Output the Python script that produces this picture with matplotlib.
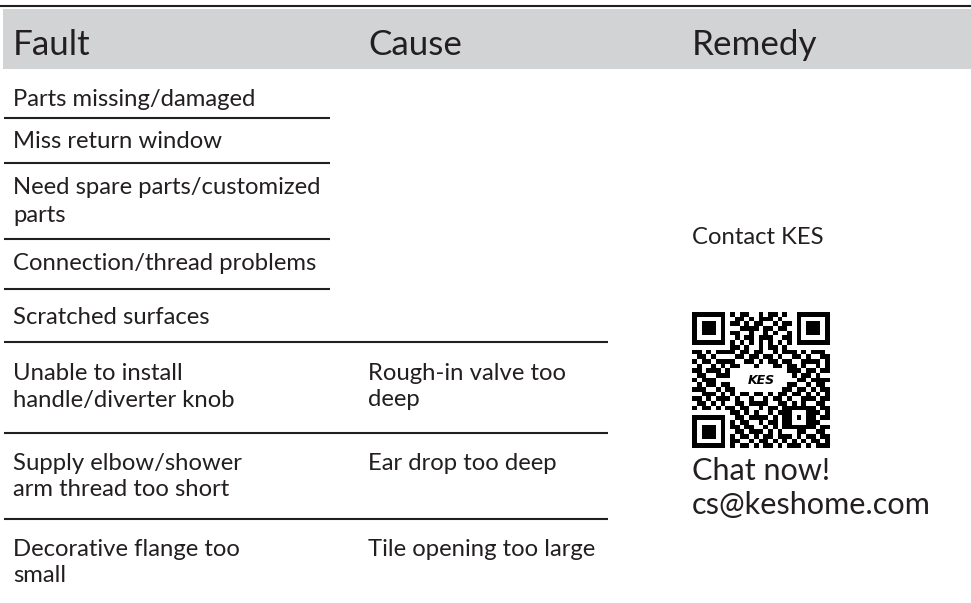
import numpy as np
import matplotlib
matplotlib.use("Agg")
import matplotlib.pyplot as plt
from matplotlib.patches import Rectangle
from matplotlib.textpath import TextPath
from matplotlib.font_manager import FontProperties

# table content
headers = ["Fault", "Cause", "Remedy"]
faults = [
    "Parts missing/damaged",
    "Miss return window",
    "Need spare parts/customized\nparts",
    "Connection/thread problems",
    "Scratched surfaces",
    "Unable to install\nhandle/diverter knob",
    "Supply elbow/shower\narm thread too short",
    "Decorative flange too\nsmall",
]
causes = ["", "", "", "", "", "Rough-in valve too\ndeep", "Ear drop too deep", "Tile opening too large"]
remedy = "Contact KES"
chat = ["Chat now!", "cs@keshome.com"]

# QR code modules (hand copied, approximate)
qr_rows = [
    "1111111 0101100 1011010 0111111 1",
    "1000001 0011010 1110100 0100000 1",
    "1011101 0110101 1001011 0101110 1",
    "1011101 0001111 0110110 0101110 1",
    "1011101 0110010 0101001 0101110 1",
    "1000001 0010110 1110011 0100000 1",
    "1111111 0101010 1010101 0111111 1",
    "0000000 0110100 1011010 0000000 0",
    "1101011 1101101 1001011 1010111 0",
    "0110100 0011011 0110100 1101001 1",
    "1011011 1100110 1011011 0011110 1",
    "0100101 0110001 0001101 1010010 1",
    "1101110 1000000 0000001 1101101 1",
    "0110011 1000000 0000000 1011010 0",
    "1011100 0000000 0000000 0110111 1",
    "0101101 1000000 0000001 1001011 0",
    "1110010 1100000 0000011 0110101 1",
    "0011101 0101101 1010110 1101010 1",
    "1101011 1010010 0101101 0011101 1",
    "0110101 0011011 1100110 1010011 0",
    "1011010 1101100 1011011 1111101 1",
    "0000000 0110101 0010111 1000110 1",
    "1111111 0011011 1101010 1010101 1",
    "1000001 0101100 1011011 1000110 0",
    "1011101 0110110 0101011 1111101 1",
    "1011101 0011011 1010100 0110011 0",
    "1011101 0101101 0110111 0101101 1",
    "1000001 0110010 1101010 1010110 1",
    "1111111 0101101 0110101 1101011 1",
]

W, H, DPI = 971, 603, 100
ink = "#231f20"
family = ["Lato", "DejaVu Sans"]


def fit_size(text, target_px):
    tp = TextPath((0, 0), text, size=100, prop=FontProperties(family=family))
    return 100 * target_px / tp.get_extents().width * 72 / DPI


head_size = fit_size("Cause", 91)
body_size = fit_size("Connection/thread problems", 302)
big_size = fit_size("cs@keshome.com", 236)

fig = plt.figure(figsize=(W / DPI, H / DPI), dpi=DPI)
ax = fig.add_axes([0, 0, 1, 1])

# header band
ax.plot([0, W], [6, 6], color=ink, lw=1.5, solid_capstyle="butt")
ax.add_patch(Rectangle((3, 9), W - 3, 60, facecolor="#d1d3d4", edgecolor="none"))
col_x = [13, 368, 692]
for x, h in zip(col_x, headers):
    ax.text(x, 55, h, fontsize=head_size, color=ink, family=family, va="baseline")

# rows
row_y = [100, 142, 188, 264, 317, 373, 463, 549]
pitch = 27
for y, f, c in zip(row_y, faults, causes):
    for i, line in enumerate(f.split("\n")):
        ax.text(col_x[0], y + i * pitch, line, fontsize=body_size, color=ink,
                family=family, va="center")
    for i, line in enumerate(c.split("\n")):
        ax.text(col_x[1], y + i * pitch, line, fontsize=body_size, color=ink,
                family=family, va="center")

short_rules = [118, 163, 239, 289]
long_rules = [342, 433, 519]
for y in short_rules:
    ax.plot([4, 330], [y, y], color=ink, lw=1.5, solid_capstyle="butt")
for y in long_rules:
    ax.plot([4, 608], [y, y], color=ink, lw=1.5, solid_capstyle="butt")

# remedy column
ax.text(col_x[2], 237, remedy, fontsize=body_size, color=ink, family=family, va="center")
qr = np.array([[int(ch) for ch in "".join(r.split())] for r in qr_rows])
n = qr.shape[0]
for r0, c0 in [(0, 0), (0, n - 7), (n - 7, 0)]:
    qr[r0:r0 + 7, c0:c0 + 7] = 1
    qr[r0 + 1:r0 + 6, c0 + 1:c0 + 6] = 0
    qr[r0 + 2:r0 + 5, c0 + 2:c0 + 5] = 1
qr[20:25, 20:25] = 1
qr[21:24, 21:24] = 0
qr[22, 22] = 1
ax.imshow(qr, cmap="gray_r", interpolation="nearest", extent=(692, 830, 448, 312),
          origin="upper", vmin=0, vmax=1)
ax.text(761, 380, "KES", fontsize=9, fontweight="bold", fontstyle="italic",
        color="black", ha="center", va="center", family="DejaVu Sans")
ax.text(col_x[2], 471, chat[0], fontsize=big_size, color=ink, family=family, va="center")
ax.text(col_x[2], 505, chat[1], fontsize=big_size, color=ink, family=family, va="center")

ax.set_xlim(0, W)
ax.set_ylim(H, 0)
ax.set_aspect("auto")
ax.axis("off")
fig.savefig("out.png", dpi=DPI)
